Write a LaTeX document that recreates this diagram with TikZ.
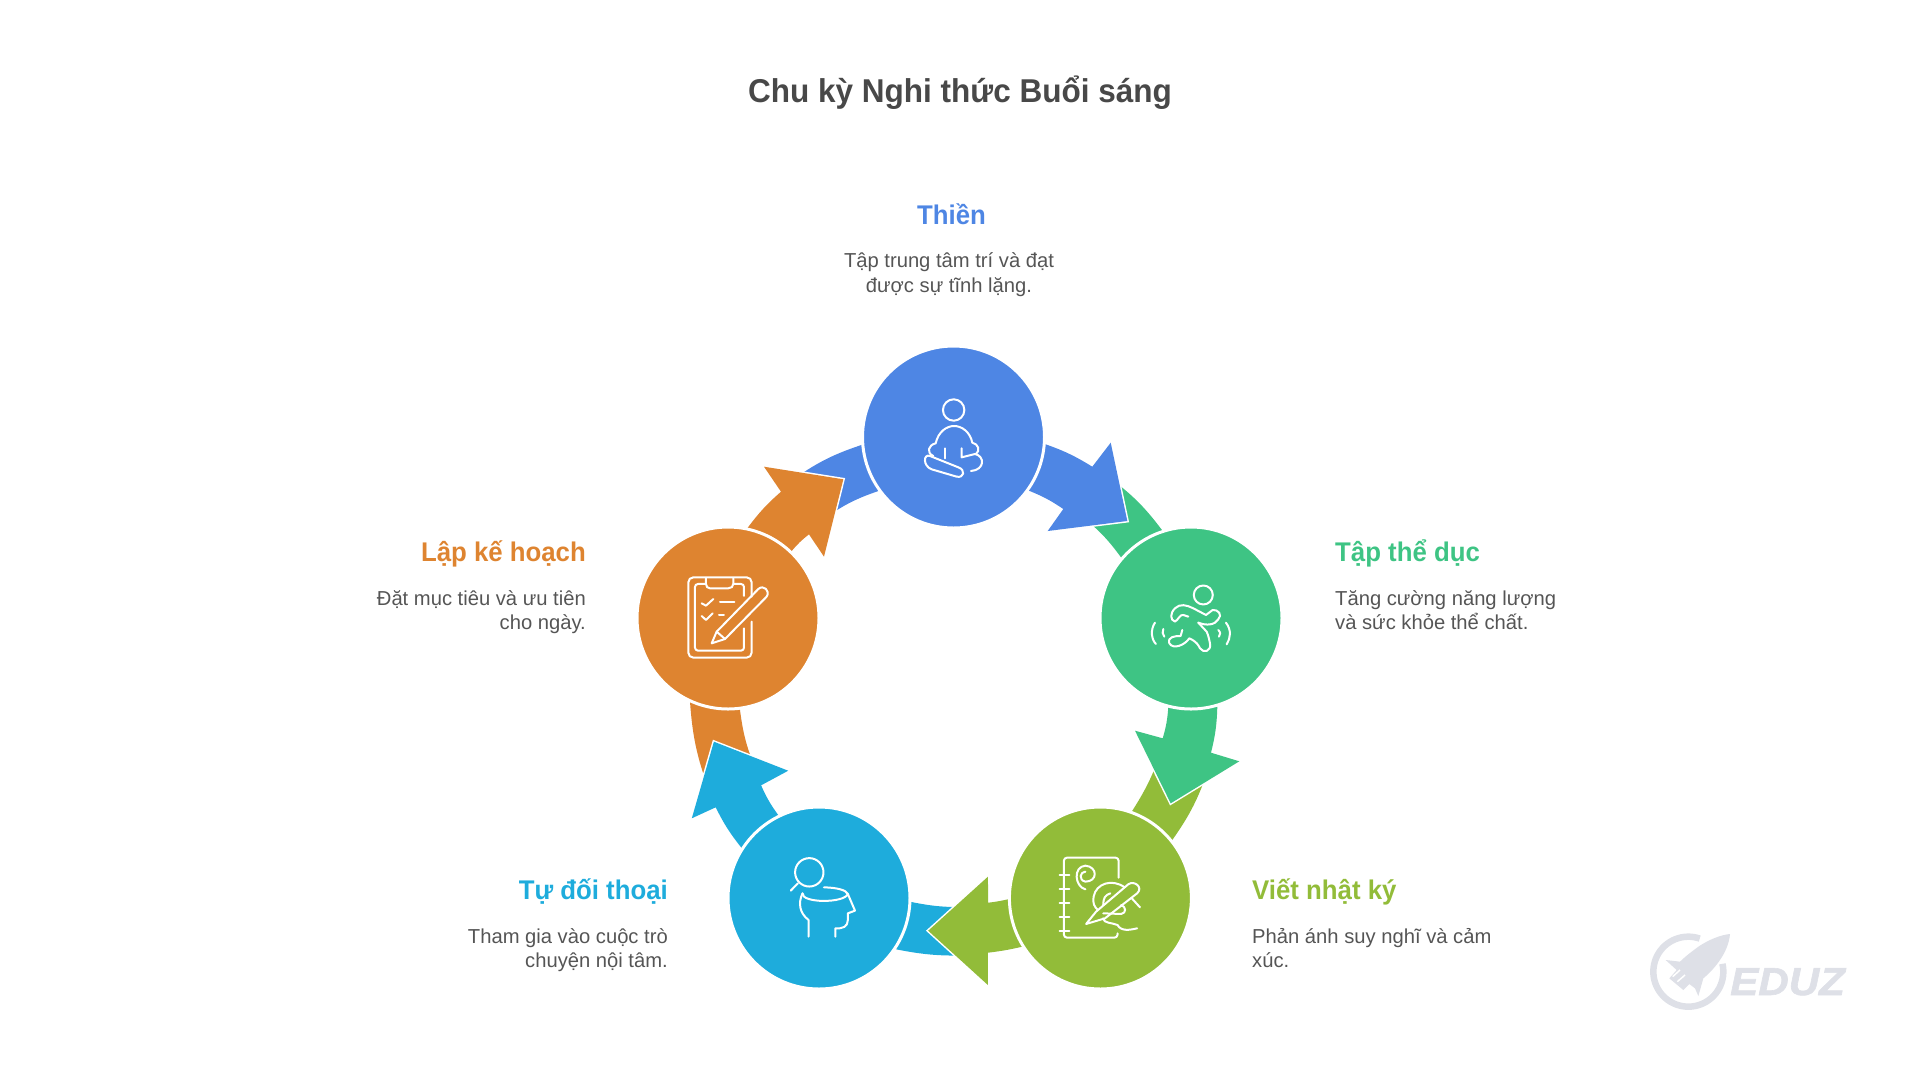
\documentclass[tikz,border=0pt]{standalone}
\usepackage{fontspec}
\setmainfont{Liberation Sans}
\newfontfamily\headfont[FakeStretch=0.955]{Liberation Sans}
\newfontfamily\logofont[FakeBold=1.5]{Liberation Sans}
\definecolor{cblue}{HTML}{4E86E4}
\definecolor{cgreen}{HTML}{3EC484}
\definecolor{clime}{HTML}{92BC39}
\definecolor{ccyan}{HTML}{1EACDC}
\definecolor{corange}{HTML}{DE8430}
\definecolor{ctitle}{HTML}{484848}
\definecolor{cbody}{HTML}{555555}
\definecolor{clogo}{HTML}{DEE0E7}
\tikzset{
  hub/.style={circle,draw=white,line width=3pt,minimum size=182pt,inner sep=0pt,fill=#1},
  headshape/.style={fill=#1,preaction={draw=white,line width=3pt}},
  icon/.style={draw=white,line width=2pt,line cap=round,line join=round},
  titletext/.style={font=\headfont\fontsize{33}{40}\selectfont\bfseries,text=ctitle,inner sep=0pt},
  headingtext/.style={font=\headfont\fontsize{27}{32}\selectfont\bfseries,text=#1,inner sep=0pt},
  bodytext/.style={font=\fontsize{20.2}{24.5}\selectfont,text=cbody,inner sep=0pt}
}
\begin{document}
\begin{tikzpicture}[x=1pt,y=-1pt]
\useasboundingbox (0,0) rectangle (1920,1080);
% coordinates at hub centres
\coordinate (cA) at (953.5,437);
\coordinate (cB) at (1191,618);
\coordinate (cC) at (1100.4,898);
\coordinate (cD) at (819,898);
\coordinate (cE) at (728,618);
% tails
\fill[cblue] (795,478) to[bend left=8] (862.3,444.7) -- (cA) -- (879.3,490.7) to[bend right=8] (825,518) -- cycle;
\fill[cgreen] (1110,478) to[bend left=8] (1162.7,531) -- (cB) -- (1121.7,558.3) to[bend right=8] (1080,515) -- cycle;
\fill[clime] (1208,770) to[bend left=8] (1172.3,840) -- (cC) -- (1131.7,811.7) to[bend right=6] (1160,755) -- cycle;
\fill[ccyan] (965,955.5) to[bend left=6] (896.1,949.3) -- (cD) -- (911.4,902) to[bend right=6] (965,907) -- cycle;
\fill[corange] (709,790) to[bend left=8] (690,701.7) -- (cE) -- (740,710) to[bend right=8] (757,772) -- cycle;
% heads
\path[headshape=cblue] (cA) -- (1045.7,444.3) to[bend left=6] (1092.3,466.7) -- (1110.7,442.7) -- (1127.3,521) -- (1047.7,531) -- (1063.3,509) to[bend right=6] (1029,490.7) -- cycle;
\path[headshape=cgreen] (cB) -- (1217.3,707.3) to[bend left=6] (1211,752.7) -- (1239.3,761.3) -- (1170.7,803.3) -- (1135,730.7) -- (1162.7,738.3) to[bend right=6] (1168.3,707.3) -- cycle;
\path[headshape=clime] (cC) -- (1022.1,946.7) to[bend left=3] (987.9,952.7) -- (987.9,985) -- (928.2,930.7) -- (987.9,876.7) -- (988.2,902.7) to[bend right=3] (1007.9,899.3) -- cycle;
\path[headshape=ccyan] (cD) -- (741.4,847.7) to[bend left=6] (715.7,807.3) -- (691.8,818.3) -- (713.9,741.7) -- (788.2,770.7) -- (761.1,785.3) to[bend right=6] (778.2,815) -- cycle;
\path[headshape=corange] (cE) -- (747.3,528.3) to[bend left=6] (781,491.7) -- (764,466.7) -- (843.3,479.3) -- (824,556.7) -- (809,534.3) to[bend right=6] (791.7,551) -- cycle;
% hubs
\node[hub=cblue] (thien) at (cA) {};
\node[hub=cgreen] (tapthe) at (cB) {};
\node[hub=clime] (nhatky) at (cC) {};
\node[hub=ccyan] (doithoai) at (cD) {};
\node[hub=corange] (kehoach) at (cE) {};
% meditation icon
\begin{scope}[shift={(840,330)},x=0.3333pt,y=-0.3333pt]
\draw[icon] (341,240) circle[radius=10.7pt];
\draw[icon] (280,378) .. controls (258,368) and (265,345) .. (287,340) .. controls (295,305) and (320,288) .. (342,288) .. controls (365,288) and (390,305) .. (397,338) .. controls (415,342) and (422,362) .. (408,372);
\draw[icon] (270,378) -- (355,412) .. controls (378,420) and (372,445) .. (350,440) -- (275,418) .. controls (248,408) and (250,370) .. (270,378) -- cycle;
\draw[icon] (315,355) -- (315,385);
\draw[icon] (365,355) -- (365,382) -- (405,372) .. controls (435,378) and (435,420) .. (393,423);
\end{scope}
% runner icon
\begin{scope}[shift={(840,330)},x=0.3333pt,y=-0.3333pt]
\draw[icon] (1090,795) circle[radius=9.5pt];
\draw[icon] (1045,860) -- (1030,855) .. controls (1020,852) and (1015,870) .. (1005,875) .. controls (990,870) and (990,850) .. (1005,835) .. controls (1020,820) and (1040,825) .. (1060,835) -- (1098,855) -- (1118,840) .. controls (1135,838) and (1148,855) .. (1135,868) .. controls (1125,885) and (1100,888) .. (1075,878);
\draw[icon] (1075,878) -- (1100,905) .. controls (1105,915) and (1108,930) .. (1110,940) .. controls (1115,965) and (1090,970) .. (1080,955) .. controls (1075,945) and (1070,935) .. (1048,925) .. controls (1035,945) and (1000,960) .. (988,940) .. controls (982,920) and (1005,918) .. (1022,918) -- (1027,900);
\draw[icon] (945,878) .. controls (930,900) and (935,930) .. (948,942);
\draw[icon] (970,897) .. controls (966,905) and (968,913) .. (973,920);
\draw[icon] (1158,878) .. controls (1175,900) and (1172,925) .. (1160,943);
\draw[icon] (1135,900) .. controls (1142,907) and (1142,913) .. (1137,920);
\end{scope}
% clipboard icon
\begin{scope}[shift={(620,440)},x=0.3333pt,y=-0.3333pt]
\draw[icon,rounded corners=5pt] (395,470) -- (395,412) -- (205,412) -- (205,653) -- (395,653) -- (395,545);
\draw[icon,rounded corners=3pt] (372,565) -- (372,632) -- (225,632) -- (225,432) -- (258,432);
\draw[icon,rounded corners=3pt] (340,432) -- (372,432) -- (372,468);
\draw[icon] (258,415) -- (258,432) .. controls (258,440) and (263,445) .. (270,445) -- (325,445) .. controls (333,445) and (340,440) .. (340,432) -- (340,415);
\draw[icon] (245,490) -- (258,497) -- (280,477);
\draw[icon] (245,528) -- (258,540) -- (278,520);
\draw[icon] (300,485) -- (343,485);
\draw[icon] (297,525) -- (312,525);
\draw[icon] (275,610) -- (290,575) -- (415,447) .. controls (430,433) and (452,452) .. (440,470) -- (315,597) -- cycle;
\draw[icon] (290,575) -- (315,597);
\end{scope}
% head with magnifier icon
\begin{scope}[shift={(680,700)},x=0.35714pt,y=-0.3333pt]
\draw[icon] (362,517) circle[radius=14.2pt];
\draw[icon] (330,550) -- (310,572);
\draw[icon] (403,562) .. controls (440,563) and (465,570) .. (470,582) -- (490,632) -- (470,640) -- (470,660) .. controls (470,680) and (455,687) .. (435,685) -- (435,710);
\draw[icon] (343,580) .. controls (340,610) and (460,610) .. (470,582);
\draw[icon] (343,580) .. controls (330,610) and (335,640) .. (360,660) -- (360,710);
\end{scope}
% journal icon
\begin{scope}[shift={(680,700)},x=0.35714pt,y=-0.3333pt]
\draw[icon,rounded corners=3pt] (1228,533) -- (1228,473) -- (1075,473) -- (1075,713) -- (1225,713) -- (1225,700);
\foreach \yy in {525,567,608,650,692} \draw[icon] (1063,\yy) -- (1090,\yy);
\draw[icon] (1135,568) .. controls (1105,560) and (1100,500) .. (1135,497) .. controls (1170,500) and (1170,545) .. (1135,545) .. controls (1115,540) and (1120,515) .. (1135,515);
\draw[icon] (1245,562) .. controls (1210,535) and (1165,550) .. (1158,590) .. controls (1155,610) and (1160,620) .. (1170,630);
\draw[icon] (1137,672) -- (1165,635) -- (1255,553) .. controls (1272,540) and (1298,562) .. (1280,580) -- (1190,655) -- cycle;
\draw[icon] (1265,595) -- (1288,622);
\draw[icon] (1185,640) -- (1235,642) .. controls (1250,640) and (1250,620) .. (1235,615);
\draw[icon] (1185,655) .. controls (1185,670) and (1210,668) .. (1225,675) .. controls (1235,695) and (1260,690) .. (1280,685);
\draw[icon] (1205,580) .. controls (1190,585) and (1185,595) .. (1185,615);
\end{scope}
% texts
\node[titletext,anchor=base] (title) at (960,102) {Chu kỳ Nghi thức Buổi sáng};
\node[headingtext=cblue,anchor=base] (h1) at (951.5,224) {Thiền};
\node[bodytext,anchor=north,align=center] (b1) at (949,252.5) {Tập trung tâm trí và đạt\\được sự tĩnh lặng.};
\node[headingtext=cgreen,anchor=base west] (h2) at (1335,561.5) {Tập thể dục};
\node[bodytext,anchor=north west,align=left] (b2) at (1335,590) {Tăng cường năng lượng\\và sức khỏe thể chất.};
\node[headingtext=clime,anchor=base west] (h3) at (1252,899.5) {Viết nhật ký};
\node[bodytext,anchor=north west,align=left] (b3) at (1252,928) {Phản ánh suy nghĩ và cảm\\xúc.};
\node[headingtext=ccyan,anchor=base east] (h4) at (668,899.5) {Tự đối thoại};
\node[bodytext,anchor=north east,align=right] (b4) at (668,928) {Tham gia vào cuộc trò\\chuyện nội tâm.};
\node[headingtext=corange,anchor=base east] (h5) at (586,561.5) {Lập kế hoạch};
\node[bodytext,anchor=north east,align=right] (b5) at (586,590) {Đặt mục tiêu và ưu tiên\\cho ngày.};
% logo
\begin{scope}[shift={(1630,920)},x=0.3333pt,y=-0.3333pt]
\draw[clogo,line width=6.5pt] plot[domain=-13:289,samples=60] ({175+105*cos(\x)},{155+105*sin(\x)});
\fill[clogo,preaction={draw=white,line width=3pt}] (300,42) .. controls (270,45) and (235,60) .. (205,80) .. controls (185,95) and (165,110) .. (150,125) -- (107,120) -- (140,150) -- (118,175) -- (160,210) -- (178,192) -- (195,205) -- (205,228) -- (220,175) .. controls (250,150) and (295,100) .. (300,42) -- cycle;
\draw[white,line width=1.5pt] (128,170) -- (150,150) (142,185) -- (165,165);
\node[font=\logofont\fontsize{39}{39}\selectfont\bfseries\itshape,text=clogo,anchor=base west,inner sep=0pt,xscale=1.08] (logo) at (300,225) {EDUZ};
\end{scope}
\end{tikzpicture}
\end{document}
